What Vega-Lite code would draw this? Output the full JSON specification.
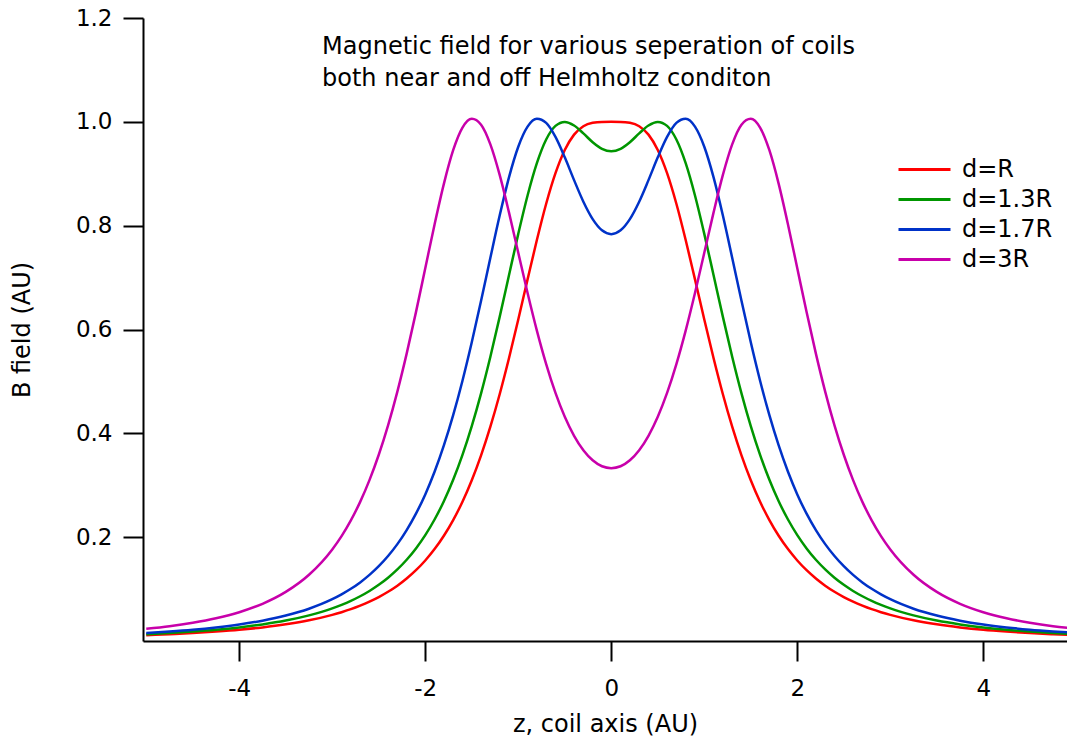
{
"$schema": "https://vega.github.io/schema/vega-lite/v6.json",
"width": 924, "height": 623,
"autosize": {"type": "none"},
"padding": {"left": 143, "top": 18, "right": 0, "bottom": 99},
"background": "white",
"config": {"view": {"stroke": null}, "font": "DejaVu Sans"},
"layer": [
{
"data": {"values": [
{"z":-5,"B":0.0111,"d":"d=R"},{"z":-4.75,"B":0.013,"d":"d=R"},{"z":-4.5,"B":0.0152,"d":"d=R"},{"z":-4.25,"B":0.0181,"d":"d=R"},{"z":-4,"B":0.0216,"d":"d=R"},{"z":-3.75,"B":0.0262,"d":"d=R"},{"z":-3.5,"B":0.0321,"d":"d=R"},{"z":-3.25,"B":0.0398,"d":"d=R"},{"z":-3,"B":0.0503,"d":"d=R"},{"z":-2.9,"B":0.0555,"d":"d=R"},{"z":-2.8,"B":0.0613,"d":"d=R"},{"z":-2.7,"B":0.0681,"d":"d=R"},{"z":-2.6,"B":0.0758,"d":"d=R"},{"z":-2.5,"B":0.0846,"d":"d=R"},{"z":-2.4,"B":0.0948,"d":"d=R"},{"z":-2.3,"B":0.1066,"d":"d=R"},{"z":-2.2,"B":0.1204,"d":"d=R"},{"z":-2.1,"B":0.1364,"d":"d=R"},{"z":-2,"B":0.1551,"d":"d=R"},{"z":-1.9,"B":0.177,"d":"d=R"},{"z":-1.8,"B":0.2027,"d":"d=R"},{"z":-1.7,"B":0.2329,"d":"d=R"},{"z":-1.6,"B":0.2682,"d":"d=R"},{"z":-1.5,"B":0.3096,"d":"d=R"},{"z":-1.4,"B":0.3576,"d":"d=R"},{"z":-1.3,"B":0.4128,"d":"d=R"},{"z":-1.2,"B":0.4753,"d":"d=R"},{"z":-1.1,"B":0.5446,"d":"d=R"},{"z":-1,"B":0.6193,"d":"d=R"},{"z":-0.9,"B":0.6965,"d":"d=R"},{"z":-0.8,"B":0.7724,"d":"d=R"},{"z":-0.7,"B":0.8422,"d":"d=R"},{"z":-0.6,"B":0.9011,"d":"d=R"},{"z":-0.5,"B":0.9458,"d":"d=R"},{"z":-0.4,"B":0.9754,"d":"d=R"},{"z":-0.3,"B":0.9916,"d":"d=R"},{"z":-0.2,"B":0.9982,"d":"d=R"},{"z":-0.1,"B":0.9999,"d":"d=R"},{"z":0,"B":1.0,"d":"d=R"},{"z":0.1,"B":0.9999,"d":"d=R"},{"z":0.2,"B":0.9982,"d":"d=R"},{"z":0.3,"B":0.9916,"d":"d=R"},{"z":0.4,"B":0.9754,"d":"d=R"},{"z":0.5,"B":0.9458,"d":"d=R"},{"z":0.6,"B":0.9011,"d":"d=R"},{"z":0.7,"B":0.8422,"d":"d=R"},{"z":0.8,"B":0.7724,"d":"d=R"},{"z":0.9,"B":0.6965,"d":"d=R"},{"z":1,"B":0.6193,"d":"d=R"},{"z":1.1,"B":0.5446,"d":"d=R"},{"z":1.2,"B":0.4753,"d":"d=R"},{"z":1.3,"B":0.4128,"d":"d=R"},{"z":1.4,"B":0.3576,"d":"d=R"},{"z":1.5,"B":0.3096,"d":"d=R"},{"z":1.6,"B":0.2682,"d":"d=R"},{"z":1.7,"B":0.2329,"d":"d=R"},{"z":1.8,"B":0.2027,"d":"d=R"},{"z":1.9,"B":0.177,"d":"d=R"},{"z":2,"B":0.1551,"d":"d=R"},{"z":2.1,"B":0.1364,"d":"d=R"},{"z":2.2,"B":0.1204,"d":"d=R"},{"z":2.3,"B":0.1066,"d":"d=R"},{"z":2.4,"B":0.0948,"d":"d=R"},{"z":2.5,"B":0.0846,"d":"d=R"},{"z":2.6,"B":0.0758,"d":"d=R"},{"z":2.7,"B":0.0681,"d":"d=R"},{"z":2.8,"B":0.0613,"d":"d=R"},{"z":2.9,"B":0.0555,"d":"d=R"},{"z":3,"B":0.0503,"d":"d=R"},{"z":3.25,"B":0.0398,"d":"d=R"},{"z":3.5,"B":0.0321,"d":"d=R"},{"z":3.75,"B":0.0262,"d":"d=R"},{"z":4,"B":0.0216,"d":"d=R"},{"z":4.25,"B":0.0181,"d":"d=R"},{"z":4.5,"B":0.0152,"d":"d=R"},{"z":4.75,"B":0.013,"d":"d=R"},{"z":5,"B":0.0111,"d":"d=R"},
{"z":-5,"B":0.0132,"d":"d=1.3R"},{"z":-4.75,"B":0.0155,"d":"d=1.3R"},{"z":-4.5,"B":0.0183,"d":"d=1.3R"},{"z":-4.25,"B":0.0217,"d":"d=1.3R"},{"z":-4,"B":0.0262,"d":"d=1.3R"},{"z":-3.75,"B":0.0319,"d":"d=1.3R"},{"z":-3.5,"B":0.0393,"d":"d=1.3R"},{"z":-3.25,"B":0.0493,"d":"d=1.3R"},{"z":-3,"B":0.0628,"d":"d=1.3R"},{"z":-2.9,"B":0.0696,"d":"d=1.3R"},{"z":-2.8,"B":0.0773,"d":"d=1.3R"},{"z":-2.7,"B":0.0862,"d":"d=1.3R"},{"z":-2.6,"B":0.0964,"d":"d=1.3R"},{"z":-2.5,"B":0.1082,"d":"d=1.3R"},{"z":-2.4,"B":0.1219,"d":"d=1.3R"},{"z":-2.3,"B":0.1379,"d":"d=1.3R"},{"z":-2.2,"B":0.1565,"d":"d=1.3R"},{"z":-2.1,"B":0.1784,"d":"d=1.3R"},{"z":-2,"B":0.204,"d":"d=1.3R"},{"z":-1.9,"B":0.234,"d":"d=1.3R"},{"z":-1.8,"B":0.2692,"d":"d=1.3R"},{"z":-1.7,"B":0.3105,"d":"d=1.3R"},{"z":-1.6,"B":0.3585,"d":"d=1.3R"},{"z":-1.5,"B":0.414,"d":"d=1.3R"},{"z":-1.4,"B":0.4771,"d":"d=1.3R"},{"z":-1.3,"B":0.5476,"d":"d=1.3R"},{"z":-1.2,"B":0.6243,"d":"d=1.3R"},{"z":-1.1,"B":0.7045,"d":"d=1.3R"},{"z":-1,"B":0.7842,"d":"d=1.3R"},{"z":-0.9,"B":0.8581,"d":"d=1.3R"},{"z":-0.8,"B":0.9203,"d":"d=1.3R"},{"z":-0.7,"B":0.9659,"d":"d=1.3R"},{"z":-0.6,"B":0.9922,"d":"d=1.3R"},{"z":-0.5,"B":0.9999,"d":"d=1.3R"},{"z":-0.4,"B":0.993,"d":"d=1.3R"},{"z":-0.3,"B":0.9777,"d":"d=1.3R"},{"z":-0.2,"B":0.9607,"d":"d=1.3R"},{"z":-0.1,"B":0.9479,"d":"d=1.3R"},{"z":0,"B":0.9432,"d":"d=1.3R"},{"z":0.1,"B":0.9479,"d":"d=1.3R"},{"z":0.2,"B":0.9607,"d":"d=1.3R"},{"z":0.3,"B":0.9777,"d":"d=1.3R"},{"z":0.4,"B":0.993,"d":"d=1.3R"},{"z":0.5,"B":0.9999,"d":"d=1.3R"},{"z":0.6,"B":0.9922,"d":"d=1.3R"},{"z":0.7,"B":0.9659,"d":"d=1.3R"},{"z":0.8,"B":0.9203,"d":"d=1.3R"},{"z":0.9,"B":0.8581,"d":"d=1.3R"},{"z":1,"B":0.7842,"d":"d=1.3R"},{"z":1.1,"B":0.7045,"d":"d=1.3R"},{"z":1.2,"B":0.6243,"d":"d=1.3R"},{"z":1.3,"B":0.5476,"d":"d=1.3R"},{"z":1.4,"B":0.4771,"d":"d=1.3R"},{"z":1.5,"B":0.414,"d":"d=1.3R"},{"z":1.6,"B":0.3585,"d":"d=1.3R"},{"z":1.7,"B":0.3105,"d":"d=1.3R"},{"z":1.8,"B":0.2692,"d":"d=1.3R"},{"z":1.9,"B":0.234,"d":"d=1.3R"},{"z":2,"B":0.204,"d":"d=1.3R"},{"z":2.1,"B":0.1784,"d":"d=1.3R"},{"z":2.2,"B":0.1565,"d":"d=1.3R"},{"z":2.3,"B":0.1379,"d":"d=1.3R"},{"z":2.4,"B":0.1219,"d":"d=1.3R"},{"z":2.5,"B":0.1082,"d":"d=1.3R"},{"z":2.6,"B":0.0964,"d":"d=1.3R"},{"z":2.7,"B":0.0862,"d":"d=1.3R"},{"z":2.8,"B":0.0773,"d":"d=1.3R"},{"z":2.9,"B":0.0696,"d":"d=1.3R"},{"z":3,"B":0.0628,"d":"d=1.3R"},{"z":3.25,"B":0.0493,"d":"d=1.3R"},{"z":3.5,"B":0.0393,"d":"d=1.3R"},{"z":3.75,"B":0.0319,"d":"d=1.3R"},{"z":4,"B":0.0262,"d":"d=1.3R"},{"z":4.25,"B":0.0217,"d":"d=1.3R"},{"z":4.5,"B":0.0183,"d":"d=1.3R"},{"z":4.75,"B":0.0155,"d":"d=1.3R"},{"z":5,"B":0.0132,"d":"d=1.3R"},
{"z":-5,"B":0.0156,"d":"d=1.7R"},{"z":-4.75,"B":0.0184,"d":"d=1.7R"},{"z":-4.5,"B":0.0218,"d":"d=1.7R"},{"z":-4.25,"B":0.0262,"d":"d=1.7R"},{"z":-4,"B":0.0318,"d":"d=1.7R"},{"z":-3.75,"B":0.0392,"d":"d=1.7R"},{"z":-3.5,"B":0.049,"d":"d=1.7R"},{"z":-3.25,"B":0.0622,"d":"d=1.7R"},{"z":-3,"B":0.0805,"d":"d=1.7R"},{"z":-2.9,"B":0.0898,"d":"d=1.7R"},{"z":-2.8,"B":0.1005,"d":"d=1.7R"},{"z":-2.7,"B":0.1129,"d":"d=1.7R"},{"z":-2.6,"B":0.1273,"d":"d=1.7R"},{"z":-2.5,"B":0.1441,"d":"d=1.7R"},{"z":-2.4,"B":0.1637,"d":"d=1.7R"},{"z":-2.3,"B":0.1866,"d":"d=1.7R"},{"z":-2.2,"B":0.2136,"d":"d=1.7R"},{"z":-2.1,"B":0.2453,"d":"d=1.7R"},{"z":-2,"B":0.2824,"d":"d=1.7R"},{"z":-1.9,"B":0.3259,"d":"d=1.7R"},{"z":-1.8,"B":0.3766,"d":"d=1.7R"},{"z":-1.7,"B":0.4349,"d":"d=1.7R"},{"z":-1.6,"B":0.5013,"d":"d=1.7R"},{"z":-1.5,"B":0.5753,"d":"d=1.7R"},{"z":-1.4,"B":0.6552,"d":"d=1.7R"},{"z":-1.3,"B":0.7382,"d":"d=1.7R"},{"z":-1.2,"B":0.8195,"d":"d=1.7R"},{"z":-1.1,"B":0.893,"d":"d=1.7R"},{"z":-1,"B":0.952,"d":"d=1.7R"},{"z":-0.9,"B":0.9907,"d":"d=1.7R"},{"z":-0.8,"B":1.0058,"d":"d=1.7R"},{"z":-0.7,"B":0.9979,"d":"d=1.7R"},{"z":-0.6,"B":0.9709,"d":"d=1.7R"},{"z":-0.5,"B":0.9316,"d":"d=1.7R"},{"z":-0.4,"B":0.8877,"d":"d=1.7R"},{"z":-0.3,"B":0.8462,"d":"d=1.7R"},{"z":-0.2,"B":0.8127,"d":"d=1.7R"},{"z":-0.1,"B":0.7911,"d":"d=1.7R"},{"z":0,"B":0.7837,"d":"d=1.7R"},{"z":0.1,"B":0.7911,"d":"d=1.7R"},{"z":0.2,"B":0.8127,"d":"d=1.7R"},{"z":0.3,"B":0.8462,"d":"d=1.7R"},{"z":0.4,"B":0.8877,"d":"d=1.7R"},{"z":0.5,"B":0.9316,"d":"d=1.7R"},{"z":0.6,"B":0.9709,"d":"d=1.7R"},{"z":0.7,"B":0.9979,"d":"d=1.7R"},{"z":0.8,"B":1.0058,"d":"d=1.7R"},{"z":0.9,"B":0.9907,"d":"d=1.7R"},{"z":1,"B":0.952,"d":"d=1.7R"},{"z":1.1,"B":0.893,"d":"d=1.7R"},{"z":1.2,"B":0.8195,"d":"d=1.7R"},{"z":1.3,"B":0.7382,"d":"d=1.7R"},{"z":1.4,"B":0.6552,"d":"d=1.7R"},{"z":1.5,"B":0.5753,"d":"d=1.7R"},{"z":1.6,"B":0.5013,"d":"d=1.7R"},{"z":1.7,"B":0.4349,"d":"d=1.7R"},{"z":1.8,"B":0.3766,"d":"d=1.7R"},{"z":1.9,"B":0.3259,"d":"d=1.7R"},{"z":2,"B":0.2824,"d":"d=1.7R"},{"z":2.1,"B":0.2453,"d":"d=1.7R"},{"z":2.2,"B":0.2136,"d":"d=1.7R"},{"z":2.3,"B":0.1866,"d":"d=1.7R"},{"z":2.4,"B":0.1637,"d":"d=1.7R"},{"z":2.5,"B":0.1441,"d":"d=1.7R"},{"z":2.6,"B":0.1273,"d":"d=1.7R"},{"z":2.7,"B":0.1129,"d":"d=1.7R"},{"z":2.8,"B":0.1005,"d":"d=1.7R"},{"z":2.9,"B":0.0898,"d":"d=1.7R"},{"z":3,"B":0.0805,"d":"d=1.7R"},{"z":3.25,"B":0.0622,"d":"d=1.7R"},{"z":3.5,"B":0.049,"d":"d=1.7R"},{"z":3.75,"B":0.0392,"d":"d=1.7R"},{"z":4,"B":0.0318,"d":"d=1.7R"},{"z":4.25,"B":0.0262,"d":"d=1.7R"},{"z":4.5,"B":0.0218,"d":"d=1.7R"},{"z":4.75,"B":0.0184,"d":"d=1.7R"},{"z":5,"B":0.0156,"d":"d=1.7R"},
{"z":-5,"B":0.0237,"d":"d=3R"},{"z":-4.75,"B":0.0286,"d":"d=3R"},{"z":-4.5,"B":0.0352,"d":"d=3R"},{"z":-4.25,"B":0.0438,"d":"d=3R"},{"z":-4,"B":0.0555,"d":"d=3R"},{"z":-3.75,"B":0.0717,"d":"d=3R"},{"z":-3.5,"B":0.0946,"d":"d=3R"},{"z":-3.25,"B":0.1276,"d":"d=3R"},{"z":-3,"B":0.1764,"d":"d=3R"},{"z":-2.9,"B":0.2021,"d":"d=3R"},{"z":-2.8,"B":0.2324,"d":"d=3R"},{"z":-2.7,"B":0.268,"d":"d=3R"},{"z":-2.6,"B":0.3098,"d":"d=3R"},{"z":-2.5,"B":0.3587,"d":"d=3R"},{"z":-2.4,"B":0.4154,"d":"d=3R"},{"z":-2.3,"B":0.4804,"d":"d=3R"},{"z":-2.2,"B":0.5535,"d":"d=3R"},{"z":-2.1,"B":0.6335,"d":"d=3R"},{"z":-2,"B":0.7179,"d":"d=3R"},{"z":-1.9,"B":0.8024,"d":"d=3R"},{"z":-1.8,"B":0.8806,"d":"d=3R"},{"z":-1.7,"B":0.9453,"d":"d=3R"},{"z":-1.6,"B":0.9889,"d":"d=3R"},{"z":-1.5,"B":1.0059,"d":"d=3R"},{"z":-1.4,"B":0.9944,"d":"d=3R"},{"z":-1.3,"B":0.9565,"d":"d=3R"},{"z":-1.2,"B":0.8977,"d":"d=3R"},{"z":-1.1,"B":0.8256,"d":"d=3R"},{"z":-1,"B":0.7477,"d":"d=3R"},{"z":-0.9,"B":0.6703,"d":"d=3R"},{"z":-0.8,"B":0.5979,"d":"d=3R"},{"z":-0.7,"B":0.5334,"d":"d=3R"},{"z":-0.6,"B":0.4779,"d":"d=3R"},{"z":-0.5,"B":0.432,"d":"d=3R"},{"z":-0.4,"B":0.3953,"d":"d=3R"},{"z":-0.3,"B":0.3675,"d":"d=3R"},{"z":-0.2,"B":0.3481,"d":"d=3R"},{"z":-0.1,"B":0.3366,"d":"d=3R"},{"z":0,"B":0.3329,"d":"d=3R"},{"z":0.1,"B":0.3366,"d":"d=3R"},{"z":0.2,"B":0.3481,"d":"d=3R"},{"z":0.3,"B":0.3675,"d":"d=3R"},{"z":0.4,"B":0.3953,"d":"d=3R"},{"z":0.5,"B":0.432,"d":"d=3R"},{"z":0.6,"B":0.4779,"d":"d=3R"},{"z":0.7,"B":0.5334,"d":"d=3R"},{"z":0.8,"B":0.5979,"d":"d=3R"},{"z":0.9,"B":0.6703,"d":"d=3R"},{"z":1,"B":0.7477,"d":"d=3R"},{"z":1.1,"B":0.8256,"d":"d=3R"},{"z":1.2,"B":0.8977,"d":"d=3R"},{"z":1.3,"B":0.9565,"d":"d=3R"},{"z":1.4,"B":0.9944,"d":"d=3R"},{"z":1.5,"B":1.0059,"d":"d=3R"},{"z":1.6,"B":0.9889,"d":"d=3R"},{"z":1.7,"B":0.9453,"d":"d=3R"},{"z":1.8,"B":0.8806,"d":"d=3R"},{"z":1.9,"B":0.8024,"d":"d=3R"},{"z":2,"B":0.7179,"d":"d=3R"},{"z":2.1,"B":0.6335,"d":"d=3R"},{"z":2.2,"B":0.5535,"d":"d=3R"},{"z":2.3,"B":0.4804,"d":"d=3R"},{"z":2.4,"B":0.4154,"d":"d=3R"},{"z":2.5,"B":0.3587,"d":"d=3R"},{"z":2.6,"B":0.3098,"d":"d=3R"},{"z":2.7,"B":0.268,"d":"d=3R"},{"z":2.8,"B":0.2324,"d":"d=3R"},{"z":2.9,"B":0.2021,"d":"d=3R"},{"z":3,"B":0.1764,"d":"d=3R"},{"z":3.25,"B":0.1276,"d":"d=3R"},{"z":3.5,"B":0.0946,"d":"d=3R"},{"z":3.75,"B":0.0717,"d":"d=3R"},{"z":4,"B":0.0555,"d":"d=3R"},{"z":4.25,"B":0.0438,"d":"d=3R"},{"z":4.5,"B":0.0352,"d":"d=3R"},{"z":4.75,"B":0.0286,"d":"d=3R"},{"z":5,"B":0.0237,"d":"d=3R"}
]},
"mark": {"type": "line", "strokeWidth": 2.5, "clip": true, "interpolate": "monotone"},
"encoding": {
"x": {"field": "z", "type": "quantitative", "scale": {"domain": [-5.035, 4.9], "nice": false, "zero": false},
 "axis": {"values": [-4, -2, 0, 2, 4], "labelExpr": "'' + datum.value", "title": "z, coil axis (AU)", "grid": false, "domainColor": "black", "domainWidth": 2, "tickColor": "black", "tickWidth": 2, "tickSize": 20, "labelFontSize": 23, "labelColor": "black", "labelFont": "DejaVu Sans", "labelPadding": 16, "labelFlush": false, "titleFontSize": 24, "titleFont": "DejaVu Sans", "titleFontWeight": "normal", "titleColor": "black", "titlePadding": 12}},
"y": {"field": "B", "type": "quantitative", "scale": {"domain": [0, 1.2], "nice": false, "zero": false},
 "axis": {"values": [0.2, 0.4, 0.6, 0.8, 1.0, 1.2], "format": ".1f", "title": "B field (AU)", "grid": false, "domainColor": "black", "domainWidth": 2, "tickColor": "black", "tickWidth": 2, "tickSize": 20, "labelFontSize": 23, "labelColor": "black", "labelFont": "DejaVu Sans", "labelPadding": 11, "labelFlush": false, "titleFontSize": 24, "titleFont": "DejaVu Sans", "titleFontWeight": "normal", "titleColor": "black", "titlePadding": 41}},
"color": {"field": "d", "type": "nominal",
 "scale": {"domain": ["d=R", "d=1.3R", "d=1.7R", "d=3R"], "range": ["#ff0000", "#009600", "#0032c8", "#c800aa"]},
 "legend": {"orient": "none", "legendX": 767, "legendY": 137, "title": null, "symbolType": "M-2,0H2", "symbolSize": 676, "symbolStrokeWidth": 3, "labelFontSize": 24, "labelFont": "DejaVu Sans", "labelColor": "black", "labelOffset": 23, "rowPadding": 3}}
}
},
{
"data": {"values": [
{"z": -3.11, "B": 1.131, "t": "Magnetic field for various seperation of coils"},
{"z": -3.11, "B": 1.0686, "t": "both near and off Helmholtz conditon"}
]},
"mark": {"type": "text", "align": "left", "baseline": "alphabetic", "fontSize": 24, "font": "DejaVu Sans", "color": "black"},
"encoding": {
"x": {"field": "z", "type": "quantitative"},
"y": {"field": "B", "type": "quantitative"},
"text": {"field": "t"}
}
}
]
}
